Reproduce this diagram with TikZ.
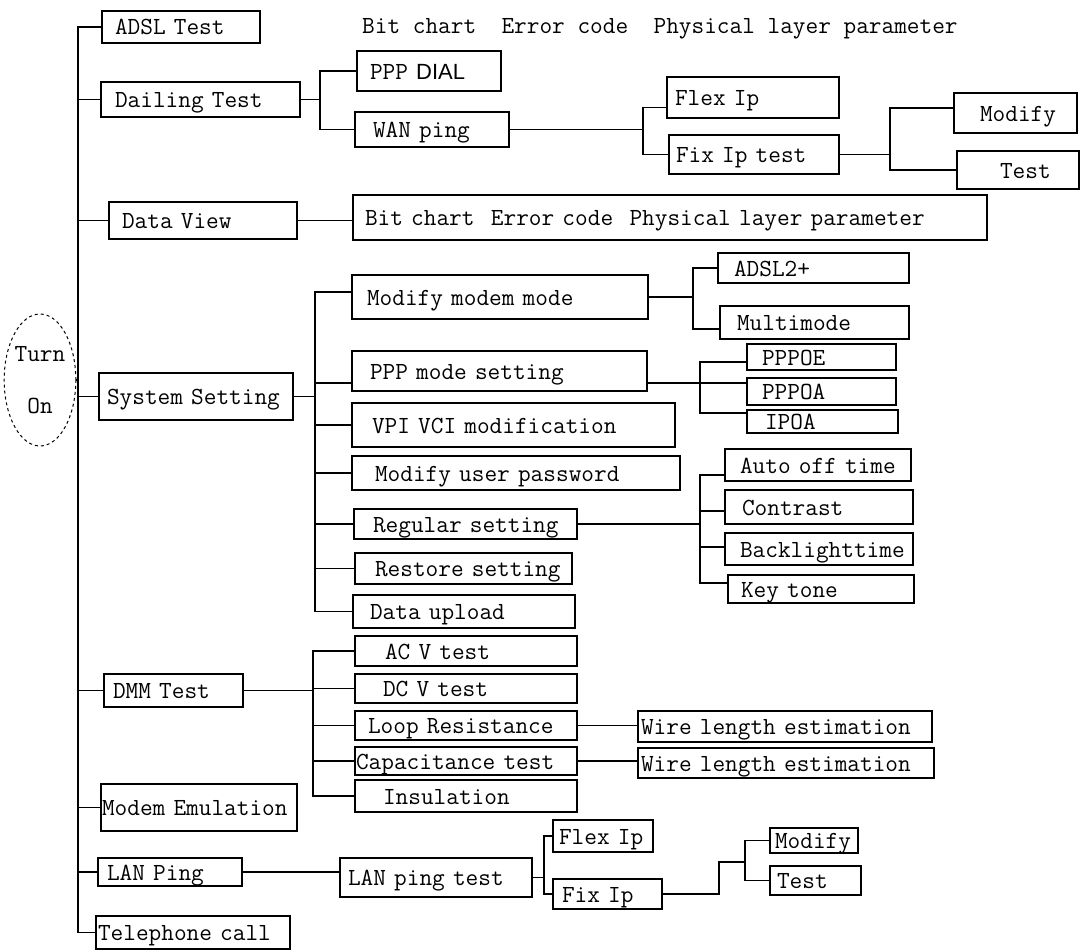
\documentclass[tikz,border=0pt]{standalone}
\usepackage{fontspec}
\newfontfamily\dsans{Liberation Sans}
\usetikzlibrary{shapes.geometric}
\newcommand\diagfont{\ttfamily\fontsize{24.6}{30}\selectfont}
\tikzset{
  bx/.style={draw, line width=1.2pt, rectangle, inner ysep=0pt, align=left,
    font=\diagfont, text height=19pt, text depth=3pt},
  ln/.style={line width=1.2pt}
}
% name, x1, y1, x2, y2, left pad, text
\newcommand\bx[7]{%
  \pgfmathsetmacro\bxh{#5-#3}%
  \pgfmathsetmacro\bxt{#4-#2-2*#6}%
  \node[bx, inner xsep=#6pt, text width=\bxt pt, minimum height=\bxh pt] (#1)
    at ({(#2+#4)/2},{(#3+#5)/2}) {\mbox{#7}};}
\begin{document}
\begin{tikzpicture}[x=1pt,y=-1pt]
\useasboundingbox (0,0) rectangle (1084,950);
\fill[white] (0,0) rectangle (1084,950);

% root
\node[draw, dashed, line width=1pt, ellipse, minimum width=57pt, minimum height=132pt,
  inner sep=0pt, align=center, font=\ttfamily\fontsize{24.6}{52}\selectfont] (turn) at (40,380) {Turn\\On};

% level 1
\bx{adsl}{102}{11}{260}{43}{13}{ADSL Test}
\bx{dial}{101}{82}{300}{117}{14}{Dailing Test}
\bx{dview}{109}{202}{297}{239}{13}{Data View}
\bx{sys}{99}{373}{293}{420}{8}{System Setting}
\bx{dmm}{104}{674}{243}{707}{9}{DMM Test}
\bx{modem}{101}{784}{297}{831}{1}{Modem Emulation}
\bx{lan}{98}{858}{242}{886}{9}{LAN Ping}
\bx{tel}{96}{916}{290}{949}{2}{Telephone call}

\node[anchor=base west, inner sep=0pt, font=\diagfont] (title) at (362,34)
  {Bit chart\ \ Error code\ \ Physical layer parameter};

% dialing
\bx{ppp}{357}{51}{501}{91}{13}{PPP {\dsans\fontsize{22}{30}\selectfont DIAL}}
\bx{wan}{355}{112}{509}{147}{18}{WAN ping}
\bx{flex1}{667}{77}{839}{118}{8}{Flex Ip}
\bx{fix1}{669}{135}{839}{174}{7}{Fix Ip test}
\bx{mod1}{954}{93}{1077}{133}{26}{Modify}
\bx{test1}{957}{151}{1079}{189}{43}{Test}

% data view
\bx{bits}{353}{195}{987}{240}{12}{Bit chart\ \ Error code\ \ Physical layer parameter}

% system setting
\bx{mmm}{352}{275}{648}{319}{15}{Modify modem mode}
\bx{adsl2}{718}{253}{909}{283}{16}{ADSL2+}
\bx{multi}{720}{306}{909}{339}{17}{Multimode}
\bx{pppmode}{352}{351}{647}{391}{18}{PPP mode setting}
\bx{pppoe}{747}{344}{896}{370}{15}{PPPOE}
\bx{pppoa}{747}{378}{896}{405}{15}{PPPOA}
\bx{ipoa}{747}{410}{898}{433}{18}{IPOA}
\bx{vpi}{352}{403}{675}{447}{20}{VPI VCI modification}
\bx{pwd}{352}{456}{680}{490}{23}{Modify user password}
\bx{reg}{354}{509}{577}{539}{19}{Regular setting}
\bx{auto}{725}{449}{911}{481}{15}{Auto off time}
\bx{contrast}{725}{490}{913}{524}{17}{Contrast}
\bx{back}{725}{533}{913}{565}{15}{Backlighttime}
\bx{key}{728}{575}{914}{603}{13}{Key tone}
\bx{restore}{355}{553}{572}{584}{20}{Restore setting}
\bx{upload}{353}{595}{575}{628}{17}{Data upload}

% DMM
\bx{acv}{355}{636}{577}{666}{30}{AC V test}
\bx{dcv}{355}{674}{577}{703}{28}{DC V test}
\bx{loop}{355}{711}{577}{740}{13}{Loop Resistance}
\bx{cap}{355}{747}{577}{775}{1}{Capacitance test}
\bx{ins}{355}{780}{577}{812}{28}{Insulation}
\bx{wire1}{638}{711}{932}{742}{3}{Wire length estimation}
\bx{wire2}{638}{748}{934}{778}{3}{Wire length estimation}

% LAN
\bx{lanpt}{340}{858}{532}{897}{8}{LAN ping test}
\bx{flex2}{553}{820}{653}{852}{6}{Flex Ip}
\bx{fix2}{553}{879}{662}{909}{9}{Fix Ip}
\bx{mod2}{770}{828}{858}{853}{5}{Modify}
\bx{test2}{770}{866}{861}{895}{7}{Test}

% ---- connectors ----
\coordinate (sp) at (78,0);
\draw[ln] (adsl.west) -| (sp |- tel.west) -- (tel.west);
\foreach \n in {dial,dview,sys,dmm,modem,lan}{\draw[ln] (sp |- \n.west) -- (\n.west);}
\draw[ln] (turn.east) -- (sp |- turn.east);

\coordinate (d1) at (320,0);
\draw[ln] (dial.east) -- (d1 |- dial.east);
\draw[ln] (ppp.west) -| (d1 |- wan.west) -- (wan.west);

\coordinate (w1) at (643,0);
\draw[ln] (wan.east) -- (w1 |- wan.east);
\draw[ln] ([yshift=-10pt]flex1.west) -| (w1 |- fix1.west) -- (fix1.west);

\coordinate (f1) at (890,0);
\draw[ln] (fix1.east) -- (f1 |- fix1.east);
\draw[ln] ([yshift=5pt]mod1.west) -| (f1 |- test1.west) -- (test1.west);

\draw[ln] (dview.east) -- (bits.west |- dview.east);

\coordinate (s1) at (315,0);
\draw[ln] (sys.east) -- (s1 |- sys.east);
\draw[ln] ([yshift=5pt]mmm.west) -| (s1 |- upload.west) -- (upload.west);
\draw[ln] (s1 |- 0,383) -- (pppmode.west |- 0,383);
\foreach \n in {vpi,pwd,reg,restore}{\draw[ln] (s1 |- \n.west) -- (\n.west);}

\coordinate (m1) at (693,0);
\draw[ln] (mmm.east) -- (m1 |- mmm.east);
\draw[ln] (adsl2.west) -| (m1 |- 0,329) -- (multi.west |- 0,329);

\coordinate (p1) at (700,0);
\draw[ln] (pppmode.east |- 0,383) -- (pppoa.west |- 0,383);
\draw[ln] (pppoe.west |- 0,362) -| (p1 |- 0,413) -- (ipoa.west |- 0,413);

\coordinate (r1) at (700,0);
\draw[ln] (reg.east) -- (r1 |- reg.east);
\draw[ln] (auto.west |- 0,475) -| (r1 |- 0,583) -- (key.west |- 0,583);
\draw[ln] (r1 |- 0,511) -- (contrast.west |- 0,511);
\draw[ln] (r1 |- 0,547) -- (back.west |- 0,547);

\coordinate (t1) at (313,0);
\draw[ln] (dmm.east) -- (t1 |- dmm.east);
\draw[ln] (acv.west) -| (t1 |- ins.west) -- (ins.west);
\foreach \n in {dcv,loop,cap}{\draw[ln] (t1 |- \n.west) -- (\n.west);}
\draw[ln] (loop.east) -- (wire1.west |- loop.east);
\draw[ln] (cap.east) -- (wire2.west |- cap.east);

\draw[ln] (lan.east) -- (lanpt.west |- lan.east);
\coordinate (l1) at (544,0);
\draw[ln] (lanpt.east) -- (l1 |- lanpt.east);
\draw[ln] (flex2.west) -| (l1 |- fix2.west) -- (fix2.west);
\coordinate (j1) at (719,862);
\coordinate (j2) at (745,862);
\draw[ln] (fix2.east) -| (j1) -- (j2);
\draw[ln] (mod2.west) -| (j2 |- test2.west) -- (test2.west);
\end{tikzpicture}
\end{document}
